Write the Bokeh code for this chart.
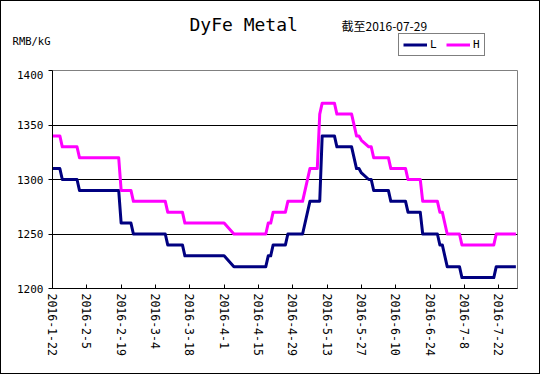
import pandas as pd
from bokeh.plotting import figure
from bokeh.layouts import column
from bokeh.models import Range1d, FixedTicker, Label, Legend, LegendItem
from bokeh.embed import file_html
from bokeh.resources import INLINE

# ---------------- data ----------------
title_text = "DyFe Metal"
subtitle_text = "截至2016-07-29"
unit_text = "RMB/kG"

l_dates = ["2016-01-22", "2016-01-25", "2016-01-26", "2016-02-01", "2016-02-02",
           "2016-02-18", "2016-02-19", "2016-02-23", "2016-02-24", "2016-03-08",
           "2016-03-09", "2016-03-15", "2016-03-16", "2016-04-01", "2016-04-05",
           "2016-04-18", "2016-04-19", "2016-04-20", "2016-04-21", "2016-04-26",
           "2016-04-27", "2016-05-03", "2016-05-06", "2016-05-10", "2016-05-11",
           "2016-05-16", "2016-05-17", "2016-05-23", "2016-05-25", "2016-05-26",
           "2016-05-27", "2016-05-30", "2016-05-31", "2016-06-01", "2016-06-07",
           "2016-06-08", "2016-06-14", "2016-06-15", "2016-06-20", "2016-06-21",
           "2016-06-27", "2016-06-28", "2016-06-29", "2016-07-01", "2016-07-06",
           "2016-07-07", "2016-07-20", "2016-07-21", "2016-07-29"]
l_values = [1310, 1310, 1300, 1300, 1290,
            1290, 1260, 1260, 1250, 1250,
            1240, 1240, 1230, 1230, 1220,
            1220, 1230, 1230, 1240, 1240,
            1250, 1250, 1280, 1280, 1340,
            1340, 1330, 1330, 1310, 1310,
            1306, 1300, 1300, 1290, 1290,
            1280, 1280, 1270, 1270, 1250,
            1250, 1240, 1240, 1220, 1220,
            1210, 1210, 1220, 1220]

h_dates = ["2016-01-22", "2016-01-25", "2016-01-26", "2016-02-01", "2016-02-02",
           "2016-02-18", "2016-02-19", "2016-02-23", "2016-02-24", "2016-03-08",
           "2016-03-09", "2016-03-15", "2016-03-16", "2016-04-01", "2016-04-05",
           "2016-04-18", "2016-04-19", "2016-04-20", "2016-04-21", "2016-04-26",
           "2016-04-27", "2016-05-03", "2016-05-06", "2016-05-09", "2016-05-10",
           "2016-05-11", "2016-05-16", "2016-05-17", "2016-05-23", "2016-05-25",
           "2016-05-26", "2016-05-27", "2016-05-30", "2016-05-31", "2016-06-01",
           "2016-06-07", "2016-06-08", "2016-06-14", "2016-06-15", "2016-06-20",
           "2016-06-21", "2016-06-27", "2016-06-28", "2016-06-29", "2016-07-01",
           "2016-07-06", "2016-07-07", "2016-07-20", "2016-07-21", "2016-07-29"]
h_values = [1340, 1340, 1330, 1330, 1320,
            1320, 1290, 1290, 1280, 1280,
            1270, 1270, 1260, 1260, 1250,
            1250, 1260, 1260, 1270, 1270,
            1280, 1280, 1310, 1310, 1360,
            1370, 1370, 1360, 1360, 1340,
            1340, 1336, 1330, 1330, 1320,
            1320, 1310, 1310, 1300, 1300,
            1280, 1280, 1270, 1270, 1250,
            1250, 1240, 1240, 1250, 1250]

tick_dates = ["2016-01-22", "2016-02-05", "2016-02-19", "2016-03-04", "2016-03-18",
              "2016-04-01", "2016-04-15", "2016-04-29", "2016-05-13", "2016-05-27",
              "2016-06-10", "2016-06-24", "2016-07-08", "2016-07-22"]
tick_labels = ["2016-1-22", "2016-2-5", "2016-2-19", "2016-3-4", "2016-3-18",
               "2016-4-1", "2016-4-15", "2016-4-29", "2016-5-13", "2016-5-27",
               "2016-6-10", "2016-6-24", "2016-7-8", "2016-7-22"]
y_ticks = [1200, 1250, 1300, 1350, 1400]
grid_values = [1250, 1300, 1350]

series_names = ["L", "H"]
series_colors = ["#000080", "#FF00FF"]

FONT = "DejaVu Sans Mono"
W = 538
HEAD_H = 69
MAIN_H = 303

x_start = pd.Timestamp("2016-01-22")
x_end = pd.Timestamp("2016-07-29 16:00")

# ---------------- header (title, unit, legend) ----------------
# its plot area lines up with the main plot area (column aligns the frames)
head = figure(width=W, height=HEAD_H, x_axis_type="datetime",
              x_range=Range1d(x_start, x_end), y_range=Range1d(0, HEAD_H),
              x_axis_location=None, y_axis_location="left",
              output_backend="svg", toolbar_location=None,
              min_border_left=51, min_border_right=22, min_border_top=0,
              min_border_bottom=0)
head.grid.visible = False
head.outline_line_color = None
head.background_fill_color = "white"
head.border_fill_color = "white"

# unit text sits left of the plot area, as the header's own axis label
head.yaxis.ticker = FixedTicker(ticks=[30])
head.yaxis.major_label_overrides = {30: unit_text}
head.yaxis.axis_line_color = None
head.yaxis.major_tick_line_color = None
head.yaxis.minor_tick_line_color = None
head.yaxis.major_tick_in = 0
head.yaxis.major_tick_out = 0
head.yaxis.major_label_standoff = 2
head.yaxis.major_label_text_font = FONT
head.yaxis.major_label_text_font_size = "10.5px"
head.yaxis.major_label_text_color = "black"

head.add_layout(Label(x=137, y=46, x_units="screen", y_units="screen", text=title_text,
                      text_font=FONT, text_font_size="18px", text_baseline="middle",
                      text_color="black"))
head.add_layout(Label(x=289, y=45, x_units="screen", y_units="screen", text=subtitle_text,
                      text_font="Noto Sans CJK SC", text_font_size="12px",
                      text_baseline="middle", text_color="black"))

# legend keys (the series lie outside this strip's visible range, so only the keys show)
key_l = head.line(x=pd.to_datetime(l_dates), y=l_values, line_color=series_colors[0],
                  line_width=3)
key_h = head.line(x=pd.to_datetime(h_dates), y=h_values, line_color=series_colors[1],
                  line_width=3)
legend = Legend(items=[LegendItem(label=series_names[0], renderers=[key_l]),
                       LegendItem(label=series_names[1], renderers=[key_h])],
                location=(346, 14), orientation="horizontal")
legend.label_text_font = FONT
legend.label_text_font_size = "11px"
legend.label_text_color = "black"
legend.glyph_width = 24
legend.glyph_height = 9
legend.label_height = 9
legend.label_width = 7
legend.label_standoff = 3
legend.spacing = 9
legend.padding = 4
legend.margin = 0
legend.border_line_color = "black"
legend.border_line_width = 1
legend.background_fill_color = "white"
legend.background_fill_alpha = 1
head.add_layout(legend)

# ---------------- main plot ----------------
p = figure(width=W, height=MAIN_H, x_axis_type="datetime",
           x_range=Range1d(x_start, x_end), y_range=Range1d(1200, 1400),
           output_backend="svg", toolbar_location=None,
           min_border_left=51, min_border_right=22,
           min_border_top=0, min_border_bottom=85)
p.background_fill_color = "white"
p.border_fill_color = "white"
p.outline_line_color = "#808080"
p.outline_line_width = 1

p.line(x=pd.to_datetime(l_dates), y=l_values, line_color=series_colors[0],
       line_width=3, line_join="round")
p.line(x=pd.to_datetime(h_dates), y=h_values, line_color=series_colors[1],
       line_width=3, line_join="round")

tick_ms = [float(pd.Timestamp(d).value // 10**6) for d in tick_dates]
p.xaxis.ticker = FixedTicker(ticks=tick_ms)
p.xaxis.major_label_overrides = {t: lab for t, lab in zip(tick_ms, tick_labels)}
p.xaxis.major_label_orientation = "vertical"
p.xaxis.major_tick_in = 4
p.xaxis.major_tick_out = 0
p.xaxis.minor_tick_line_color = None
p.xaxis.axis_line_color = "black"
p.xaxis.major_tick_line_color = "black"
p.xaxis.major_label_text_font = FONT
p.xaxis.major_label_text_font_size = "11.5px"
p.xaxis.major_label_text_color = "black"
p.xaxis.major_label_standoff = 5

p.yaxis.ticker = FixedTicker(ticks=y_ticks)
p.yaxis.major_tick_in = 0
p.yaxis.major_tick_out = 4
p.yaxis.minor_tick_line_color = None
p.yaxis.axis_line_color = "black"
p.yaxis.major_tick_line_color = "black"
p.yaxis.major_label_text_font = FONT
p.yaxis.major_label_text_font_size = "11px"
p.yaxis.major_label_text_color = "black"
p.yaxis.major_label_standoff = 5

p.xgrid.visible = False
p.ygrid.ticker = FixedTicker(ticks=grid_values)
p.ygrid.grid_line_color = "black"
p.ygrid.grid_line_width = 1

page = column(head, p, spacing=0)
page.styles = {"border": "1px solid black"}

open("out.html", "w").write(file_html(page, INLINE))
